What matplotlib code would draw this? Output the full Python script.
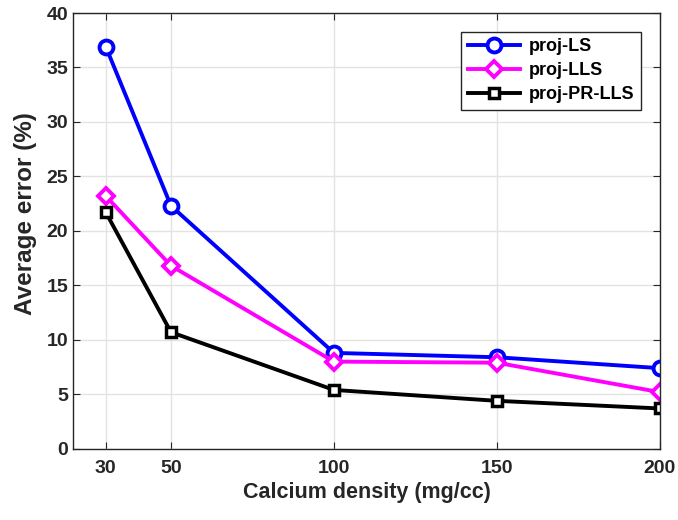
import numpy as np
import matplotlib
matplotlib.use("Agg")
import matplotlib.pyplot as plt

plt.rcParams['font.family'] = ['Liberation Sans', 'DejaVu Sans']
plt.rcParams['font.weight'] = 'bold'

density = [30, 50, 100, 150, 200]
err_ls = [36.9, 22.3, 8.8, 8.4, 7.4]
err_lls = [23.2, 16.8, 8.0, 7.9, 5.2]
err_prlls = [21.7, 10.7, 5.4, 4.4, 3.7]

fig = plt.figure(figsize=(6.78, 5.2), dpi=100)
ax = fig.add_axes([0.108, 0.137, 0.865, 0.838])

ax.plot(density, err_ls, color='#0000ff', lw=2.8, marker='o', ms=10,
        mfc='white', mew=2.8, label='proj-LS')
ax.plot(density, err_lls, color='#ff00ff', lw=2.8, marker='D', ms=8.5,
        mfc='white', mew=2.8, label='proj-LLS')
ax.plot(density, err_prlls, color='black', lw=2.8, marker='s', ms=7.5,
        mfc='white', mew=2.5, label='proj-PR-LLS')

ax.set_xlim(20, 200)
ax.set_ylim(0, 40)
ax.set_xticks(density)
ax.set_yticks(np.arange(0, 41, 5))
ax.grid(True, color='#e3e3e3', lw=1)
ax.set_axisbelow(True)
ax.tick_params(direction='in', top=True, right=True, labelsize=14, length=5,
               color='#262626', labelcolor='#262626')
ax.tick_params(axis='x', pad=8)
for s in ax.spines.values():
    s.set_color('#262626')
    s.set_linewidth(1)

ax.set_xlabel('Calcium density (mg/cc)', fontsize=15.5, fontweight='bold', color='#262626', labelpad=4)
ax.set_ylabel('Average error (%)', fontsize=17.5, fontweight='bold', color='#262626', labelpad=5)
ax.yaxis.set_label_coords(-0.062, 0.54)

leg = ax.legend(loc='upper right', bbox_to_anchor=(0.968, 0.956), borderaxespad=0,
                fontsize=13, fancybox=False, edgecolor='#262626', framealpha=1,
                handlelength=2.9, handletextpad=0.5, borderpad=0.35, labelspacing=0.38)
leg.get_frame().set_linewidth(1)

fig.savefig('out.png', dpi=100)
